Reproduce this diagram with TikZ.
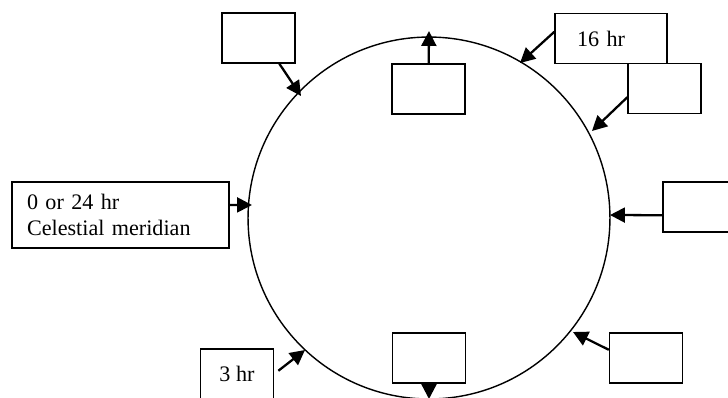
\documentclass[tikz,border=0pt]{standalone}
\usepackage{fontspec}
\setmainfont{Liberation Serif}
\usetikzlibrary{calc,arrows.meta}
\tikzset{
	slot/.style={draw, line width=0.8pt, minimum width=1.46cm, minimum height=1cm, inner sep=0pt},
	pointer/.style={line width=1.3pt, -{Triangle[length=8.5pt,width=8.5pt]}}
}

\begin{document}
\begin{tikzpicture}[x=0.02cm, y=-0.02cm, font=\fontsize{12.6}{14.5}\selectfont]
		%%%%% START %%%%%
		
		\useasboundingbox (0, 0) rectangle (728, 397);
		\clip (0, 0) rectangle (728, 397);
		
		\coordinate (ctr) at (429, 218);
		\draw[line width=0.8pt] (ctr) circle[radius=3.62cm];
		
		\node[slot] (b1) at (258.5, 38) {};
		\node[slot] (b2) at (428.5, 89) {};
		\node[slot, text width=1.36cm, inner xsep=0.44cm, align=left] (s16) at (611, 38.5) {16 hr};
		\node[slot] (b4) at (664.5, 88.5) {};
		
		\node[slot, text width=3.74cm, inner xsep=0.3cm, minimum height=1.32cm, align=left] (meridian) at (120.5, 215) {0 or 24 hr\\Celestial meridian};
		\node[slot] (b6) at (699.5, 207) {};
		
		\node[slot] (s3) at (237, 374) {3 hr};
		\node[slot] (b8) at (429, 358) {};
		\node[slot] (b9) at (646, 358) {};
		
		\coordinate (t1) at (301, 96);
		\coordinate (t2) at (429, 31);
		\coordinate (t3) at (520, 63);
		\coordinate (t4) at (592, 131);
		\coordinate (t5) at (252, 205);
		\coordinate (t6) at (610, 215);
		\coordinate (t7) at (305, 350);
		\coordinate (t8) at (429, 399);
		\coordinate (t9) at (573, 332);
		
		\draw[pointer] ($(b1.south west)!.78!(b1.south east)$) -- (t1);
		\draw[pointer] (b2) -- (t2);
		\draw[pointer] ($(s16.north west)!.37!(s16.south west)$) -- (t3);
		\draw[pointer] ($(b4.north west)!.67!(b4.south west)$) -- (t4);
		\draw[pointer] ($(meridian.north east)!.35!(meridian.south east)$) -- (t5);
		\draw[pointer] ($(b6.north west)!.66!(b6.south west)$) -- (t6);
		\draw[pointer, shorten <=3pt] (s3.east) -- (t7);
		\draw[pointer] (b8) -- (t8);
		\draw[pointer] ($(b9.north west)!.34!(b9.south west)$) -- (t9);
		
		%%%%% END %%%%%
\end{tikzpicture}
\end{document}
